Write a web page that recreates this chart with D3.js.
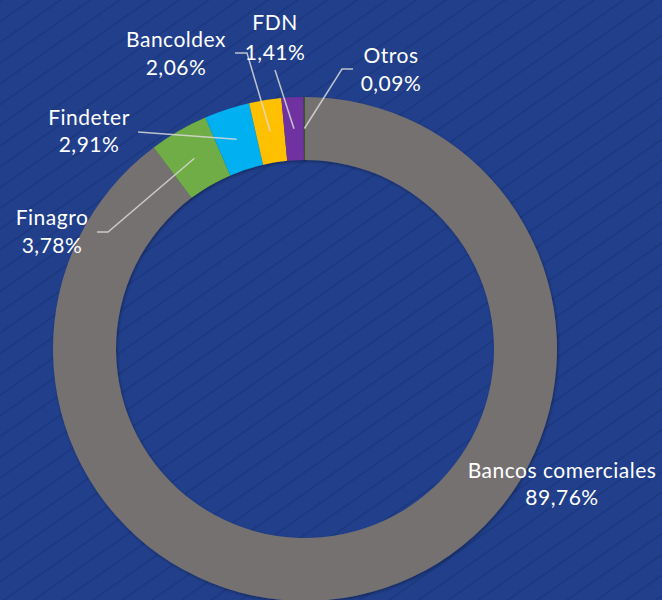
<!DOCTYPE html>
<html>
<head>
<meta charset="utf-8">
<script src="https://cdn.jsdelivr.net/npm/d3@7"></script>
<style>
  html, body { margin: 0; padding: 0; background: #213f8b; }
  svg { display: block; }
  .label { fill: #ffffff; font-family: Lato, "Open Sans", sans-serif; font-size: 21px; letter-spacing: 0.5px; }
  .leader { fill: none; stroke: #d9d9d9; stroke-opacity: 0.85; stroke-width: 1.5; }
</style>
</head>
<body>
<div id="chart"></div>
<script>
// Donut: distribución por tipo de entidad (valores en %)
const categories = ['Bancos comerciales', 'Finagro', 'Findeter', 'Bancoldex', 'FDN', 'Otros'];
const shares = [89.76, 3.78, 2.91, 2.06, 1.41, 0.09];
const shareLabels = ['89,76%', '3,78%', '2,91%', '2,06%', '1,41%', '0,09%'];
const sliceColors = ['#767171', '#70ad47', '#00b0f0', '#ffc000', '#7030a0', '#375623'];

// Label placement (text centre + first baseline) and leader elbows, relative to the chart centre
const labelLayout = {
    'Bancos comerciales': {x: 257, y: 129, lh: 27, leader: null},
    'Finagro':   {x: -253, y: -124, lh: 28, leader: [[-197, -117], [-208, -117]]},
    'Findeter':  {x: -216, y: -224, lh: 27, leader: [[-167, -217], [-167, -217]]},
    'Bancoldex': {x: -129, y: -302, lh: 28, leader: [[-58, -296], [-70, -296]]},
    'FDN':       {x: -30,  y: -319, lh: 30, leader: [[-30, -279], [-30, -279]]},
    'Otros':     {x: 86,   y: -286, lh: 28, leader: [[37, -280], [48, -280]]}
};

const width = 662, height = 600;
const cx = 305, cy = 349;
const outerR = 252, innerR = 189;

const svg = d3.select('#chart').append('svg')
    .attr('width', width)
    .attr('height', height);

// Background with faint diagonal stripes
const defs = svg.append('defs');
const pattern = defs.append('pattern')
    .attr('id', 'stripes')
    .attr('patternUnits', 'userSpaceOnUse')
    .attr('width', 17)
    .attr('height', 17)
    .attr('patternTransform', 'rotate(-35)');
pattern.append('rect').attr('width', 17).attr('height', 17).attr('fill', '#213f8b');
pattern.append('rect').attr('y', 0).attr('width', 17).attr('height', 1.4).attr('fill', '#1a367e');

const shadow = defs.append('filter').attr('id', 'shadow')
    .attr('x', '-10%').attr('y', '-10%').attr('width', '120%').attr('height', '120%');
shadow.append('feDropShadow')
    .attr('dx', 1).attr('dy', 1.5).attr('stdDeviation', 1.5)
    .attr('flood-color', '#000').attr('flood-opacity', 0.35);

svg.append('rect')
    .attr('width', width)
    .attr('height', height)
    .attr('fill', 'url(#stripes)');

const data = categories.map((c, i) => ({name: c, value: shares[i], label: shareLabels[i], color: sliceColors[i]}));

const pie = d3.pie()
    .sort(null)
    .value(d => d.value);

const arc = d3.arc()
    .innerRadius(innerR)
    .outerRadius(outerR);

const g = svg.append('g').attr('transform', `translate(${cx},${cy})`);

const arcs = pie(data);

g.append('g')
    .attr('filter', 'url(#shadow)')
    .selectAll('path')
    .data(arcs)
    .enter()
    .append('path')
    .attr('d', arc)
    .attr('fill', d => d.data.color);

// Leader lines from slice centroid to label
g.selectAll('.leader')
    .data(arcs.filter(d => labelLayout[d.data.name].leader))
    .enter()
    .append('polyline')
    .attr('class', 'leader')
    .attr('points', d => {
        const pts = [arc.centroid(d)].concat(labelLayout[d.data.name].leader);
        return pts.map(p => p.join(',')).join(' ');
    });

const labels = g.selectAll('.label')
    .data(arcs)
    .enter()
    .append('text')
    .attr('class', 'label')
    .attr('text-anchor', 'middle');

labels.append('tspan')
    .attr('x', d => labelLayout[d.data.name].x)
    .attr('y', d => labelLayout[d.data.name].y)
    .text(d => d.data.name);

labels.append('tspan')
    .attr('x', d => labelLayout[d.data.name].x)
    .attr('y', d => labelLayout[d.data.name].y + labelLayout[d.data.name].lh)
    .text(d => d.data.label);
</script>
</body>
</html>
